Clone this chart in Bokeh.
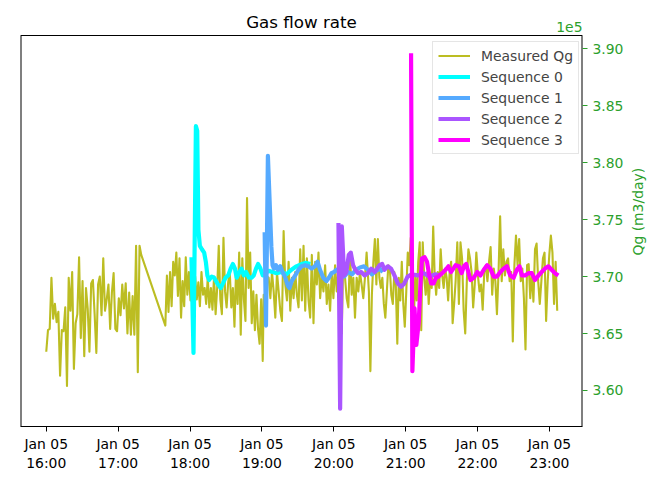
import numpy as np
import pandas as pd
from bokeh.plotting import figure
from bokeh.layouts import row
from bokeh.models import Range1d, FixedTicker, DatetimeTickFormatter, PrintfTickFormatter, Label
from bokeh.embed import file_html
from bokeh.resources import INLINE

# ---------------- data (Qg in units of 1e5 m3/day, time in minutes after Jan 05 16:00) -------------
base_time = "2021-01-05 16:00"

# measured Qg, piecewise regular sampling: (start_min, end_min), values
qg_a_span = (0.0, 79.3)
qg_a = [3.634, 3.653, 3.654, 3.699, 3.663, 3.676, 3.660, 3.669, 3.613, 3.653, 3.652, 3.673, 3.604,
        3.699, 3.670, 3.704, 3.619, 3.659, 3.667, 3.717, 3.646, 3.696, 3.630, 3.690, 3.672, 3.634,
        3.694, 3.697, 3.667, 3.633, 3.693, 3.700, 3.666, 3.716, 3.670, 3.680, 3.693, 3.654, 3.686,
        3.703, 3.654, 3.652, 3.681, 3.666, 3.693, 3.672, 3.694, 3.650, 3.686, 3.649, 3.683, 3.649,
        3.727, 3.616, 3.727, 3.719]
qg_b1_span = (99.4, 180.7)
qg_b1 = [3.657, 3.701, 3.669, 3.704, 3.674, 3.713, 3.701, 3.721, 3.683, 3.716, 3.664, 3.696, 3.674,
         3.717, 3.684, 3.704, 3.679, 3.710, 3.690, 3.700, 3.680, 3.695, 3.674, 3.704, 3.684, 3.690,
         3.676, 3.699, 3.673, 3.690, 3.671, 3.700, 3.667, 3.690, 3.727, 3.680, 3.667, 3.734, 3.687,
         3.673, 3.695, 3.704, 3.673, 3.690, 3.656, 3.705, 3.676, 3.721, 3.649, 3.716, 3.680, 3.661,
         3.769, 3.690, 3.721, 3.659, 3.687, 3.653, 3.684, 3.654, 3.641, 3.680, 3.626]
qg_b2_span = (181.5, 267.4)
qg_b2 = [3.684, 3.660, 3.700, 3.699, 3.681, 3.704, 3.687, 3.664, 3.704, 3.687, 3.670, 3.661, 3.740,
         3.693, 3.679, 3.713, 3.670, 3.699, 3.681, 3.704, 3.684, 3.673, 3.724, 3.679, 3.727, 3.670,
         3.716, 3.679, 3.664, 3.719, 3.659, 3.713, 3.693, 3.721, 3.681, 3.701, 3.687, 3.710, 3.676,
         3.693, 3.670, 3.704, 3.681, 3.710, 3.687, 3.704, 3.687, 3.650, 3.720, 3.699, 3.681, 3.673,
         3.721, 3.684, 3.699, 3.664, 3.699, 3.687, 3.704, 3.693, 3.681, 3.699, 3.721]
qg_b3_span = (269.3, 341.7)
qg_b3 = [3.687, 3.617, 3.684, 3.713, 3.733, 3.693, 3.733, 3.699, 3.690, 3.699, 3.676, 3.664, 3.687,
         3.710, 3.707, 3.684, 3.676, 3.704, 3.693, 3.641, 3.699, 3.679, 3.713, 3.676, 3.656, 3.687,
         3.721, 3.710, 3.734, 3.690, 3.660, 3.700, 3.679, 3.713, 3.730, 3.653, 3.730, 3.699, 3.684,
         3.704, 3.676, 3.699, 3.690, 3.744, 3.701, 3.684, 3.704, 3.690, 3.724, 3.701, 3.690, 3.707,
         3.699, 3.679, 3.704, 3.713, 3.659, 3.676, 3.696]
qg_b4_span = (343.1, 426.5)
qg_b4 = [3.730, 3.676, 3.730, 3.716, 3.670, 3.650, 3.696, 3.724, 3.716, 3.704, 3.673, 3.693, 3.721,
         3.701, 3.687, 3.693, 3.671, 3.704, 3.710, 3.696, 3.713, 3.726, 3.684, 3.707, 3.696, 3.667,
         3.704, 3.753, 3.696, 3.724, 3.701, 3.713, 3.716, 3.696, 3.704, 3.643, 3.710, 3.736, 3.710,
         3.733, 3.696, 3.707, 3.681, 3.636, 3.710, 3.711, 3.681, 3.704, 3.678, 3.724, 3.729, 3.696,
         3.676, 3.696, 3.716, 3.721, 3.661, 3.696, 3.719, 3.736, 3.721, 3.676, 3.713, 3.670]

seq0_min = [121.2, 122.9, 124.9, 126.0, 127.0, 128.2, 129.9, 131.8, 133.2, 134.5, 135.9, 138.1, 140.1,
            142.8, 145.6, 147.5, 149.7, 151.9, 153.9, 155.8, 157.5, 158.9, 160.8, 163.0, 164.9, 166.8,
            169.1, 171.3, 173.2, 175.1, 176.8, 178.8, 180.7, 183.1, 185.6, 188.9, 192.3, 196.4, 200.5,
            204.7, 208.8, 213.0, 217.1, 220.4]
seq0_val = [3.717, 3.633, 3.832, 3.828, 3.741, 3.727, 3.724, 3.721, 3.713, 3.701, 3.697, 3.700, 3.699,
            3.694, 3.690, 3.694, 3.699, 3.701, 3.707, 3.711, 3.707, 3.699, 3.703, 3.707, 3.701, 3.704,
            3.699, 3.699, 3.701, 3.707, 3.711, 3.707, 3.701, 3.703, 3.705, 3.704, 3.703, 3.704, 3.702,
            3.706, 3.709, 3.711, 3.712, 3.711]

seq1_min = [182.3, 183.4, 185.0, 187.9, 188.9, 190.0, 191.7, 193.3, 195.3, 197.2, 199.5, 201.6, 203.0,
            204.9, 207.8, 210.5, 213.2, 216.0, 218.8, 221.5, 224.3, 226.5, 228.5, 231.2, 233.9, 235.9,
            238.1, 240.3, 242.2, 245.3, 248.6, 251.9, 255.2, 258.6, 261.9, 265.2, 268.5, 271.8, 275.1,
            278.4, 280.9]
seq1_val = [3.739, 3.657, 3.806, 3.726, 3.710, 3.707, 3.710, 3.706, 3.709, 3.704, 3.699, 3.692, 3.690,
            3.696, 3.701, 3.706, 3.709, 3.710, 3.709, 3.707, 3.709, 3.713, 3.706, 3.699, 3.696, 3.699,
            3.703, 3.704, 3.706, 3.703, 3.700, 3.704, 3.702, 3.706, 3.708, 3.709, 3.706, 3.702, 3.705,
            3.707, 3.704]

seq2_min = [243.9, 245.3, 246.7, 248.6, 250.5, 252.5, 254.2, 256.1, 258.0, 260.2, 262.9, 265.8, 268.5,
            271.2, 274.3, 278.2, 280.4, 282.3, 285.1, 287.8, 290.6, 293.4, 296.1, 298.9, 301.6, 305.0,
            309.9, 314.9, 319.9, 324.9, 329.0]
seq2_val = [3.747, 3.584, 3.744, 3.701, 3.704, 3.719, 3.721, 3.710, 3.706, 3.703, 3.704, 3.701, 3.703,
            3.707, 3.704, 3.710, 3.711, 3.706, 3.709, 3.707, 3.701, 3.694, 3.691, 3.694, 3.700, 3.702,
            3.701, 3.703, 3.700, 3.702, 3.701]

seq3_min = [304.5, 305.6, 307.4, 308.9, 310.9, 312.2, 313.6, 315.8, 317.8, 319.7, 321.3, 323.3, 325.2,
            327.4, 329.3, 331.5, 333.4, 335.7, 337.8, 339.8, 341.7, 344.5, 346.7, 348.6, 350.5, 354.1,
            356.9, 359.7, 362.4, 365.2, 368.0, 370.7, 373.5, 376.2, 379.0, 381.8, 384.5, 387.3, 390.1,
            392.8, 395.0, 397.0, 399.7, 402.5, 405.2, 408.0, 410.8, 413.5, 416.3, 419.1, 421.8, 424.6,
            427.4]
seq3_val = [3.896, 3.617, 3.672, 3.640, 3.660, 3.690, 3.716, 3.717, 3.713, 3.701, 3.694, 3.694, 3.699,
            3.700, 3.702, 3.704, 3.706, 3.709, 3.704, 3.707, 3.710, 3.709, 3.703, 3.709, 3.711, 3.697,
            3.699, 3.704, 3.701, 3.706, 3.710, 3.707, 3.700, 3.700, 3.704, 3.707, 3.709, 3.701, 3.699,
            3.706, 3.709, 3.701, 3.701, 3.703, 3.703, 3.697, 3.701, 3.704, 3.707, 3.709, 3.706, 3.703,
            3.701]

series_names = ["Measured Qg", "Sequence 0", "Sequence 1", "Sequence 2", "Sequence 3"]
series_colors = ["#bcbd22", "#00ffff", "#55aaff", "#aa55ff", "#ff00ff"]
y_ticks = [3.60, 3.65, 3.70, 3.75, 3.80, 3.85, 3.90]
x_tick_hours = [0, 1, 2, 3, 4, 5, 6, 7]
x_span_min = (-21.5, 447.6)
y_span = (3.5684, 3.9116)
title_text = "Gas flow rate"
offset_text = "1e5"
y_label = "Qg (m3/day)"

# ---------------- layout constants (pixels) -------------
W_MAIN, W_LABEL, H = 626, 22, 474
BORDER_L, BORDER_R, BORDER_B = 20, 40, 48
BOX_TOP_PX = 35                      # top edge of the axes box
FRAME_BOTTOM_PX = H - BORDER_B
PPU = (FRAME_BOTTOM_PX - BOX_TOP_PX) / (y_span[1] - y_span[0])   # px per unit
TEXT_SHIFT = 7                       # baseline correction for Label text
YLABEL_CX, YLABEL_CY = 637.0, 235.0  # centre of the rotated y-axis title


def y_at_px(py):
    return y_span[1] + (BOX_TOP_PX - py) / PPU


base_ms = pd.Timestamp(base_time).value / 1e6


def to_ms(mins):
    return base_ms + np.asarray(mins, dtype=float) * 60000.0


meas_min, meas_val = [], []
for span, vals in [(qg_a_span, qg_a), (qg_b1_span, qg_b1), (qg_b2_span, qg_b2),
                   (qg_b3_span, qg_b3), (qg_b4_span, qg_b4)]:
    meas_min.extend(np.linspace(span[0], span[1], len(vals)))
    meas_val.extend(vals)

GREEN = "#2ca02c"
FONT = "DejaVu Sans"
x0, x1 = float(to_ms(x_span_min[0])), float(to_ms(x_span_min[1]))

p = figure(width=W_MAIN, height=H, x_axis_type="datetime", y_axis_location="right",
           output_backend="svg", toolbar_location=None,
           x_range=Range1d(x0, x1), y_range=Range1d(y_span[0], y_at_px(0)),
           min_border_left=BORDER_L, min_border_right=BORDER_R, min_border_top=0,
           min_border_bottom=BORDER_B)

p.xgrid.visible = False
p.ygrid.visible = False
p.outline_line_color = None
p.background_fill_color = "white"
p.border_fill_color = "white"

# axes box (left, top, right edges; bottom edge is the x axis line)
p.segment(x0=[x0, x0, x1], y0=[y_span[0], y_span[1], y_span[0]],
          x1=[x0, x1, x1], y1=[y_span[1], y_span[1], y_span[1]],
          line_color="black", line_width=[2, 1, 2])

# lines
p.line(to_ms(meas_min), meas_val, color=series_colors[0], line_width=2.1,
       line_join="round", legend_label=series_names[0])
for i, (mins, vals) in enumerate([(seq0_min, seq0_val), (seq1_min, seq1_val),
                                  (seq2_min, seq2_val), (seq3_min, seq3_val)]):
    p.line(to_ms(mins), vals, color=series_colors[i + 1], line_width=4.2,
           line_join="round", legend_label=series_names[i + 1])

# x axis
xa = p.xaxis[0]
xa.ticker = FixedTicker(ticks=[base_ms + h * 3600000.0 for h in x_tick_hours])
fmt = "%b %d\n%H:%M"
xa.formatter = DatetimeTickFormatter(milliseconds=fmt, seconds=fmt, minsec=fmt, minutes=fmt,
                                     hourmin=fmt, hours=fmt, days=fmt, months=fmt, years=fmt)
xa.major_label_text_font = FONT
xa.major_label_text_font_size = "13.9px"
xa.major_label_text_color = "black"
xa.axis_line_color = "black"
xa.major_tick_line_color = "black"
xa.major_tick_in = 0
xa.major_tick_out = 5
xa.minor_tick_line_color = None
xa.major_label_standoff = 4

# right y axis
ya = p.yaxis[0]
ya.ticker = FixedTicker(ticks=y_ticks)
ya.formatter = PrintfTickFormatter(format="%.2f")
ya.major_label_text_font = FONT
ya.major_label_text_font_size = "13.9px"
ya.major_label_text_color = GREEN
ya.axis_line_color = None
ya.major_tick_line_color = GREEN
ya.major_tick_in = 0
ya.major_tick_out = 5
ya.minor_tick_line_color = None
ya.major_label_standoff = 5

# title and offset text inside the (taller) frame, above the axes box
p.add_layout(Label(x=(x0 + x1) / 2, y=y_at_px(28.3 - TEXT_SHIFT), text=title_text,
                   text_align="center", text_baseline="alphabetic", text_font=FONT,
                   text_font_size="16.7px", text_color="black"))
p.add_layout(Label(x=x1, y=y_at_px(33.3 - TEXT_SHIFT), text=offset_text, text_align="right",
                   text_baseline="alphabetic", text_font=FONT, text_font_size="13.9px",
                   text_color=GREEN))

# legend
lg = p.legend[0]
lg.location = (432 - BORDER_L, FRAME_BOTTOM_PX - 154)
lg.padding = 5
lg.spacing = 4
lg.glyph_width = 32
lg.glyph_height = 17
lg.label_height = 17
lg.label_standoff = 11
lg.label_text_font = FONT
lg.label_text_font_size = "13.9px"
lg.border_line_color = "#cccccc"
lg.border_line_width = 1
lg.background_fill_alpha = 0.8

# narrow strip holding the rotated y-axis title (reads bottom to top)
p2 = figure(width=W_LABEL, height=H, output_backend="svg", toolbar_location=None,
            x_range=Range1d(0, W_LABEL), y_range=Range1d(0, H),
            x_axis_location=None, y_axis_location=None,
            min_border_left=0, min_border_right=0, min_border_top=0, min_border_bottom=0)
p2.xgrid.visible = False
p2.ygrid.visible = False
p2.outline_line_color = None
p2.background_fill_color = "white"
p2.border_fill_color = "white"
p2.add_layout(Label(x=YLABEL_CX - W_MAIN, y=H - YLABEL_CY, text=y_label, angle=np.pi / 2,
                    text_align="center", text_baseline="middle", text_font=FONT,
                    text_font_size="13.9px", text_color=GREEN))

layout = row(p, p2)
open("out.html", "w").write(file_html(layout, INLINE))
